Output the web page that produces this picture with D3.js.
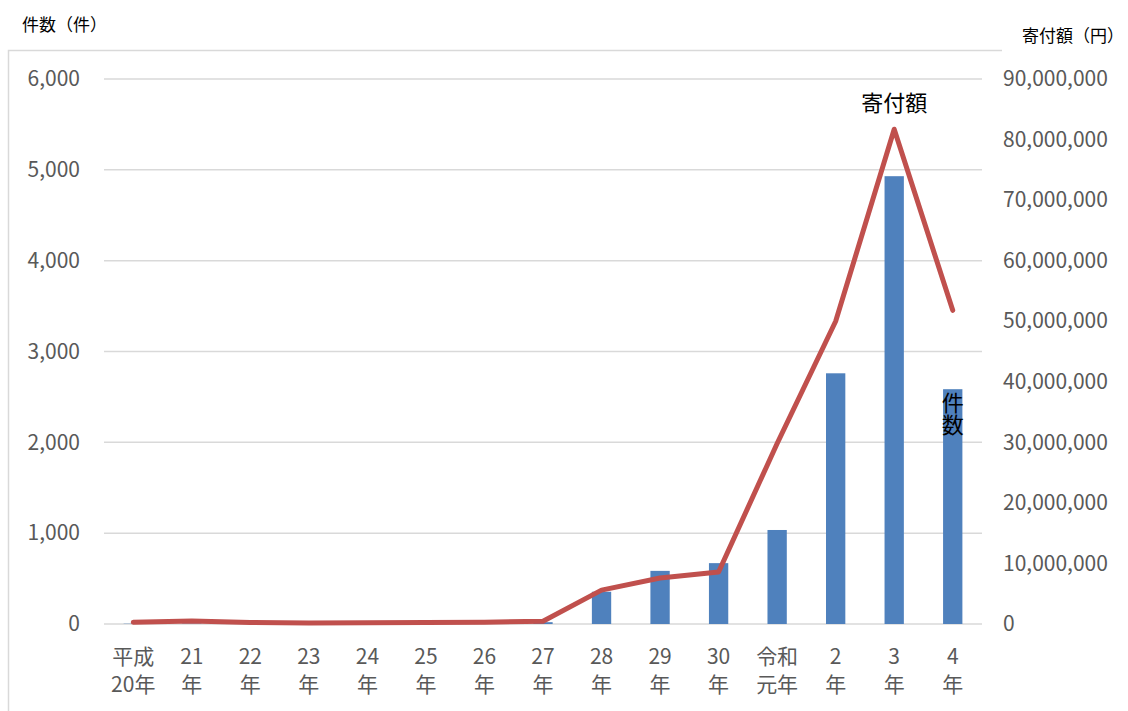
<!DOCTYPE html>
<html lang="ja">
<head>
<meta charset="utf-8">
<title>件数と寄付額</title>
<script src="https://d3js.org/d3.v7.min.js"></script>
<style>
  body { margin: 0; background: #fff; }
  svg text { font-family: "Noto Sans CJK JP", "Noto Sans", sans-serif; }
</style>
</head>
<body>
<div id="chart"></div>
<script>
// data
var years = ["平成\n20年", "21\n年", "22\n年", "23\n年", "24\n年", "25\n年", "26\n年", "27\n年",
             "28\n年", "29\n年", "30\n年", "令和\n元年", "2\n年", "3\n年", "4\n年"];
var counts = [3, 5, 2, 1, 2, 3, 4, 20, 355, 585, 670, 1035, 2760, 4930, 2585];
var amounts = [300000, 500000, 250000, 150000, 200000, 250000, 300000, 450000,
               5600000, 7600000, 8600000, 29800000, 50000000, 81700000, 51800000];
var leftTicks = [0, 1000, 2000, 3000, 4000, 5000, 6000];
var rightTicks = [0, 10000000, 20000000, 30000000, 40000000, 50000000, 60000000, 70000000, 80000000, 90000000];

var W = 1128, H = 711;
var plot = {left: 104, right: 982, top: 79, bottom: 624};

var svg = d3.select("#chart").append("svg")
    .attr("width", W)
    .attr("height", H);

// outer frame (top + left edges only visible)
svg.append("path")
    .attr("d", "M8.5," + H + "V50.5H1002")
    .attr("fill", "none")
    .attr("stroke", "#d9d9d9")
    .attr("stroke-width", 1.5);

var x = d3.scaleBand()
    .domain(years)
    .range([plot.left, plot.right])
    .padding(0);

var yLeft = d3.scaleLinear()
    .domain([0, 6000])
    .range([plot.bottom, plot.top]);

var yRight = d3.scaleLinear()
    .domain([0, 90000000])
    .range([plot.bottom, plot.top]);

var fmt = d3.format(",");

// gridlines
svg.append("g")
    .selectAll("line")
    .data(leftTicks)
  .enter().append("line")
    .attr("x1", plot.left)
    .attr("x2", plot.right)
    .attr("y1", function(d) { return yLeft(d); })
    .attr("y2", function(d) { return yLeft(d); })
    .attr("stroke", "#d9d9d9")
    .attr("stroke-width", 1.5);

// left axis
var axL = svg.append("g")
    .attr("transform", "translate(" + plot.left + ",0)")
    .call(d3.axisLeft(yLeft).tickValues(leftTicks).tickFormat(fmt).tickSize(0).tickPadding(24));
axL.select(".domain").remove();
axL.selectAll("text")
    .attr("fill", "#595959")
    .style("font-size", "21px");

// right axis
var axR = svg.append("g")
    .attr("transform", "translate(" + plot.right + ",0)")
    .call(d3.axisRight(yRight).tickValues(rightTicks).tickFormat(fmt).tickSize(0).tickPadding(21));
axR.select(".domain").remove();
axR.selectAll("text")
    .attr("fill", "#595959")
    .style("font-size", "21px");

// bars
var barW = x.bandwidth() * 0.33;
svg.append("g")
    .selectAll("rect")
    .data(counts)
  .enter().append("rect")
    .attr("x", function(d, i) { return x(years[i]) + (x.bandwidth() - barW) / 2; })
    .attr("y", function(d) { return yLeft(d); })
    .attr("width", barW)
    .attr("height", function(d) { return yLeft(0) - yLeft(d); })
    .attr("fill", "#4f81bd");

// line
var line = d3.line()
    .x(function(d, i) { return x(years[i]) + x.bandwidth() / 2; })
    .y(function(d) { return yRight(d); });

svg.append("path")
    .datum(amounts)
    .attr("d", line)
    .attr("fill", "none")
    .attr("stroke", "#c0504d")
    .attr("stroke-width", 5)
    .attr("stroke-linejoin", "round")
    .attr("stroke-linecap", "round");

// category labels (two lines)
var xl = svg.append("g");
years.forEach(function(label, i) {
  var cx = x(label) + x.bandwidth() / 2;
  var t = xl.append("text")
      .attr("x", cx)
      .attr("text-anchor", "middle")
      .attr("fill", "#595959")
      .style("font-size", "21px");
  label.split("\n").forEach(function(part, j) {
    t.append("tspan")
        .attr("x", cx)
        .attr("y", 664 + j * 28)
        .text(part);
  });
});

// axis titles
svg.append("text")
    .attr("x", 22)
    .attr("y", 31)
    .attr("fill", "#000")
    .style("font-size", "17px")
    .text("件数（件）");

svg.append("text")
    .attr("x", 1022)
    .attr("y", 42)
    .attr("fill", "#000")
    .style("font-size", "17px")
    .text("寄付額（円）");

// series labels
var peak = amounts.length - 2;
svg.append("text")
    .attr("x", x(years[peak]) + x.bandwidth() / 2)
    .attr("y", 111)
    .attr("text-anchor", "middle")
    .attr("fill", "#000")
    .style("font-size", "22px")
    .text("寄付額");

var last = years.length - 1;
var lastX = x(years[last]) + x.bandwidth() / 2;
var cntLabel = svg.append("text")
    .attr("text-anchor", "middle")
    .attr("fill", "#000")
    .style("font-size", "22px");
["件", "数"].forEach(function(ch, j) {
  cntLabel.append("tspan")
      .attr("x", lastX)
      .attr("y", 411 + j * 22)
      .text(ch);
});
</script>
</body>
</html>
